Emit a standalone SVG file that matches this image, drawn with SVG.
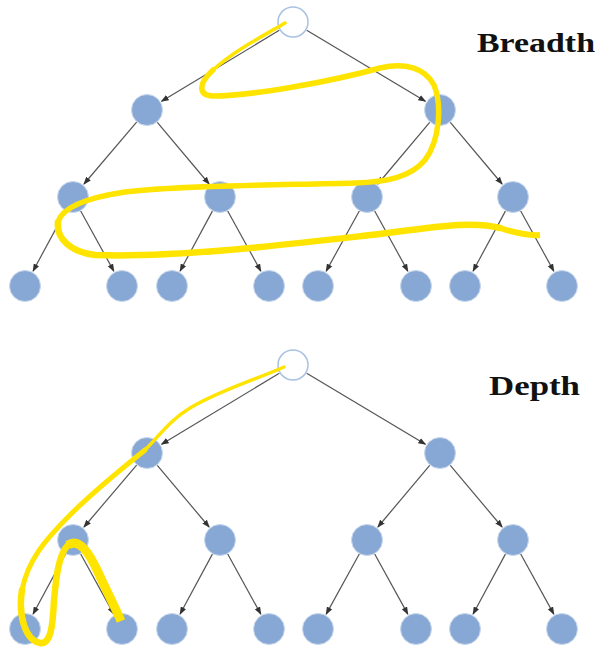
<svg xmlns="http://www.w3.org/2000/svg" width="596" height="648" viewBox="0 0 596 648">
  <style>
    .node { fill: #87a8d4; stroke: #c9d8ec; stroke-width: 1; }
    .root { fill: #ffffff; stroke: #a9c1e3; stroke-width: 1.5; }
    .edge { stroke: #555555; stroke-width: 1.2; fill: none; marker-end: url(#arrow); }
    .title { font-family: "Liberation Serif", "DejaVu Serif", serif; font-weight: bold; font-size: 28px; fill: #111111; }
    .trail { fill: none; stroke: #ffe400; stroke-linecap: round; stroke-linejoin: round; }
  </style>
  <defs>
    <marker id="arrow" markerWidth="8" markerHeight="6" refX="7" refY="3" orient="auto" markerUnits="userSpaceOnUse">
      <path d="M0,0 L8,3 L0,6 Z" fill="#333333"/>
    </marker>
    <!-- one complete binary tree of depth 3 -->
    <g id="tree-edges">
      <line x1="279.3" y1="30.3" x2="161.6" y2="101.2"/>
      <line x1="306.7" y1="30.2" x2="425.4" y2="101.3"/>
      <line x1="136.6" y1="122.2" x2="84.0" y2="184.0"/>
      <line x1="157.3" y1="122.3" x2="209.1" y2="184.0"/>
      <line x1="429.7" y1="122.3" x2="377.9" y2="184.0"/>
      <line x1="450.3" y1="122.3" x2="502.1" y2="184.0"/>
      <line x1="65.4" y1="211.1" x2="33.1" y2="271.0"/>
      <line x1="80.7" y1="211.0" x2="113.8" y2="271.1"/>
      <line x1="212.4" y1="211.1" x2="180.1" y2="271.0"/>
      <line x1="227.7" y1="211.0" x2="260.8" y2="271.1"/>
      <line x1="359.3" y1="211.0" x2="326.2" y2="271.1"/>
      <line x1="374.7" y1="211.0" x2="407.8" y2="271.1"/>
      <line x1="505.4" y1="211.1" x2="473.1" y2="271.0"/>
      <line x1="520.7" y1="211.0" x2="553.8" y2="271.1"/>
    </g>
  </defs>

  <!-- connectors of both trees -->
  <g id="connectors" class="edge">
    <use href="#tree-edges" class="edge"/>
    <use href="#tree-edges" class="edge" transform="translate(0,343)"/>
  </g>

  <!-- breadth-first tree -->
  <g id="breadth-tree">
    <g id="b-root"><circle class="root" cx="293" cy="22" r="15"/></g>
    <g id="b-n1"><circle class="node" cx="147" cy="110" r="15.5"/></g>
    <g id="b-n2"><circle class="node" cx="440" cy="110" r="15.5"/></g>
    <g id="b-n3"><circle class="node" cx="73" cy="197" r="15.5"/></g>
    <g id="b-n4"><circle class="node" cx="220" cy="197" r="15.5"/></g>
    <g id="b-n5"><circle class="node" cx="367" cy="197" r="15.5"/></g>
    <g id="b-n6"><circle class="node" cx="513" cy="197" r="15.5"/></g>
    <g id="b-n7"><circle class="node" cx="25" cy="286" r="15.5"/></g>
    <g id="b-n8"><circle class="node" cx="122" cy="286" r="15.5"/></g>
    <g id="b-n9"><circle class="node" cx="172" cy="286" r="15.5"/></g>
    <g id="b-n10"><circle class="node" cx="269" cy="286" r="15.5"/></g>
    <g id="b-n11"><circle class="node" cx="318" cy="286" r="15.5"/></g>
    <g id="b-n12"><circle class="node" cx="416" cy="286" r="15.5"/></g>
    <g id="b-n13"><circle class="node" cx="465" cy="286" r="15.5"/></g>
    <g id="b-n14"><circle class="node" cx="562" cy="286" r="15.5"/></g>
  </g>

  <!-- depth-first tree -->
  <g id="depth-tree" transform="translate(0,343)">
    <g id="d-root"><circle class="root" cx="293" cy="22" r="15"/></g>
    <g id="d-n1"><circle class="node" cx="147" cy="110" r="15.5"/></g>
    <g id="d-n2"><circle class="node" cx="440" cy="110" r="15.5"/></g>
    <g id="d-n3"><circle class="node" cx="73" cy="197" r="15.5"/></g>
    <g id="d-n4"><circle class="node" cx="220" cy="197" r="15.5"/></g>
    <g id="d-n5"><circle class="node" cx="367" cy="197" r="15.5"/></g>
    <g id="d-n6"><circle class="node" cx="513" cy="197" r="15.5"/></g>
    <g id="d-n7"><circle class="node" cx="25" cy="286" r="15.5"/></g>
    <g id="d-n8"><circle class="node" cx="122" cy="286" r="15.5"/></g>
    <g id="d-n9"><circle class="node" cx="172" cy="286" r="15.5"/></g>
    <g id="d-n10"><circle class="node" cx="269" cy="286" r="15.5"/></g>
    <g id="d-n11"><circle class="node" cx="318" cy="286" r="15.5"/></g>
    <g id="d-n12"><circle class="node" cx="416" cy="286" r="15.5"/></g>
    <g id="d-n13"><circle class="node" cx="465" cy="286" r="15.5"/></g>
    <g id="d-n14"><circle class="node" cx="562" cy="286" r="15.5"/></g>
  </g>

  <!-- hand-drawn traversal trails -->
  <g id="breadth-trail" class="trail">
    <path stroke-width="3.5" d="M285,23 C265,35 235,50 213,70"/>
    <path stroke-width="5.5" d="M213,70 C198,84 198,95 213,96 C250,96 330,82 380,68 C405,62 425,68 434,85 C442,105 440,140 425,160 C410,178 385,182 355,183 C290,185 180,185 125,192 C85,198 62,208 58,222"/>
    <path stroke-width="6.5" d="M58,222 C56,238 70,252 95,255 C180,258 300,243 380,234 C430,228 470,220 500,228"/>
    <path stroke-width="6" stroke-linecap="butt" d="M500,228 C515,233 528,236 540,235"/>
  </g>
  <g id="depth-trail" class="trail">
    <path stroke-width="3.5" d="M284,367 C260,378 220,390 190,408 C170,420 160,435 145,450"/>
    <path stroke-width="5" d="M145,450 C120,470 95,490 70,515 C45,540 28,560 22,590"/>
    <path stroke-width="6.5" d="M22,590 C18,615 25,640 40,643 C52,645 53,620 54,600 C56,580 58,555 68,545"/>
    <path stroke-width="9" stroke-linecap="butt" d="M68,545 C80,537 90,555 98,572 C106,590 114,605 121,621"/>
  </g>

  <g id="labels">
    <text class="title" x="477" y="52" textLength="118" lengthAdjust="spacingAndGlyphs">Breadth</text>
    <text class="title" x="489" y="395" textLength="91" lengthAdjust="spacingAndGlyphs">Depth</text>
  </g>
</svg>
